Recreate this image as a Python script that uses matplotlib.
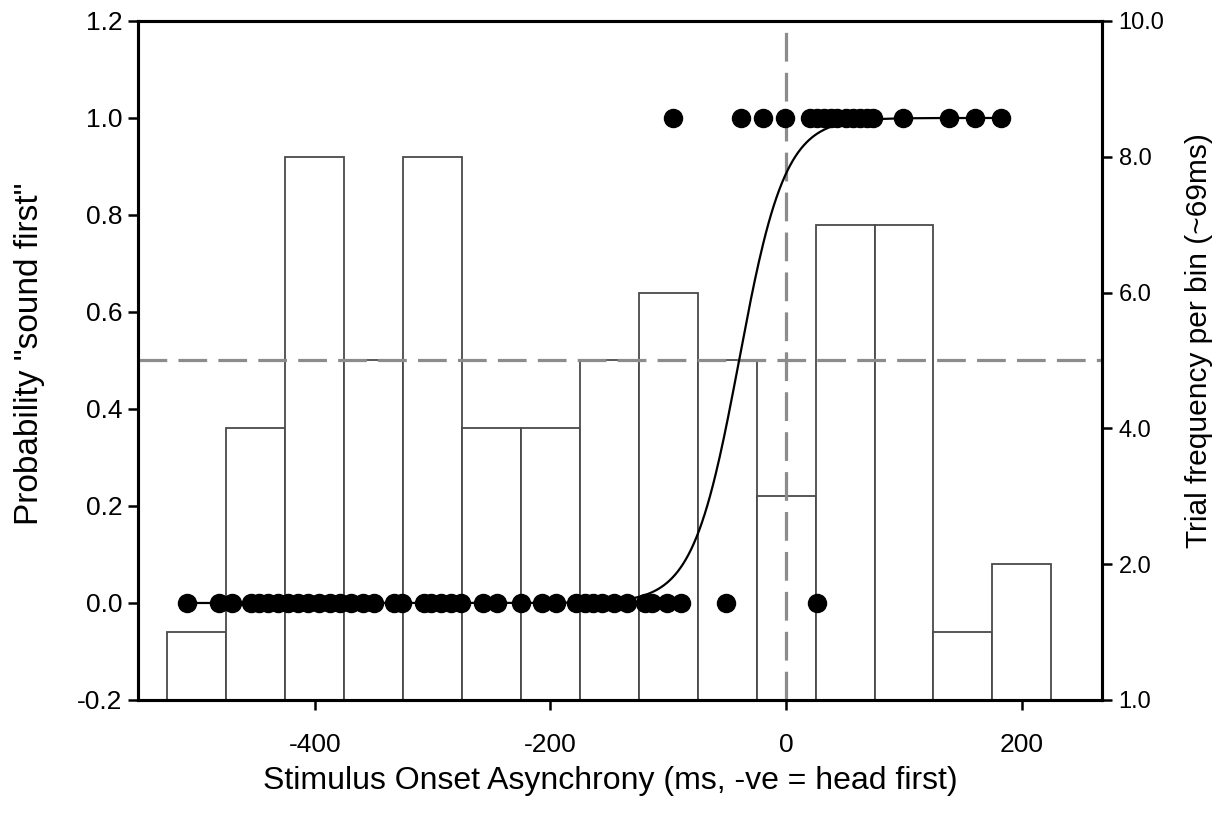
import numpy as np
import matplotlib
matplotlib.use("Agg")
import matplotlib.pyplot as plt

plt.rcParams['font.family'] = ['Liberation Sans', 'DejaVu Sans']
plt.rcParams['axes.unicode_minus'] = False

# histogram of trials per bin (right axis)
bin_edges = [-525, -475, -425, -375, -325, -275, -225, -175, -125, -75,
             -25, 25, 75, 125, 175, 225]
bin_counts = [1, 4, 8, 5, 8, 4, 4, 5, 6, 5, 3, 7, 7, 1, 2]

# single trials: response "sound first" = 0
soa_zero = [-508, -481, -470, -454, -447, -440, -431, -423, -414, -406,
            -396, -387, -379, -369, -359, -350, -333, -326, -307, -301,
            -293, -284, -276, -257, -245, -225, -207, -195, -178, -171,
            -164, -156, -146, -135, -120, -114, -101, -89, -51, 26]
# response = 1
soa_one = [-96, -38, -20, -1, 20, 26, 32, 38, 43, 51, 57, 63, 69, 74,
           99, 138, 160, 182]

# fitted sigmoid
pse = -40.0
slope = 19.5

right_ticks = [0, 2, 4, 6, 8, 10]
right_ticklabels = ['1.0', '2.0', '4.0', '6.0', '8.0', '10.0']

fig = plt.figure(figsize=(12.2, 8.13), dpi=100)
ax = fig.add_axes([0.1131, 0.139, 0.9033 - 0.1131, 0.9742 - 0.139])
ax2 = ax.twinx()

# bars on the right axis, drawn behind the left axis content
ax2.set_zorder(0)
ax.set_zorder(1)
ax.patch.set_visible(False)

edges = np.array(bin_edges)
ax2.bar(edges[:-1], bin_counts, width=np.diff(edges), align='edge',
        facecolor='white', edgecolor='#4a4a4a', linewidth=1.3)
ax2.set_ylim(0, 10)
ax2.set_yticks(right_ticks)
ax2.set_yticklabels(right_ticklabels)

dash = (9, 3.5)
ax.axhline(0.5, color='#8c8c8c', lw=2.3, ls=(0, dash), zorder=2)
ax.axvline(0, color='#8c8c8c', lw=2.3, ls=(0, dash), zorder=2)

allx = soa_zero + soa_one
xs = np.linspace(min(allx), max(allx), 600)
ax.plot(xs, 1 / (1 + np.exp(-(xs - pse) / slope)), color='black', lw=1.6, zorder=3)

ax.plot(soa_zero, np.zeros(len(soa_zero)), 'o', color='black', ms=13, zorder=4)
ax.plot(soa_one, np.ones(len(soa_one)), 'o', color='black', ms=13, zorder=4)

ax.set_xlim(-550, 268)
ax.set_ylim(-0.2, 1.2)
ax.set_xticks([-400, -200, 0, 200])
ax.set_yticks(np.arange(-0.2, 1.21, 0.2))
ax.yaxis.set_major_formatter(matplotlib.ticker.FormatStrFormatter('%.1f'))

for a in (ax, ax2):
    for s in a.spines.values():
        s.set_linewidth(2.2)
        s.set_color('black')
    a.tick_params(direction='out', length=7, width=1.8)
ax.tick_params(axis='y', labelsize=19, pad=4)
ax.tick_params(axis='x', labelsize=19, pad=17)
ax2.tick_params(axis='y', labelsize=17, pad=5)

ax.set_xlabel('Stimulus Onset Asynchrony (ms, -ve = head first)', fontsize=23)
ax.set_ylabel('Probability "sound first"', fontsize=24)
ax2.set_ylabel('Trial frequency per bin (~69ms)', fontsize=21.5)
ax.xaxis.set_label_coords(0.49, -0.097)
ax.yaxis.set_label_coords(-0.0965, 0.51)
ax2.yaxis.set_label_coords(1.086, 0.53)

fig.savefig('out.png', dpi=100)
